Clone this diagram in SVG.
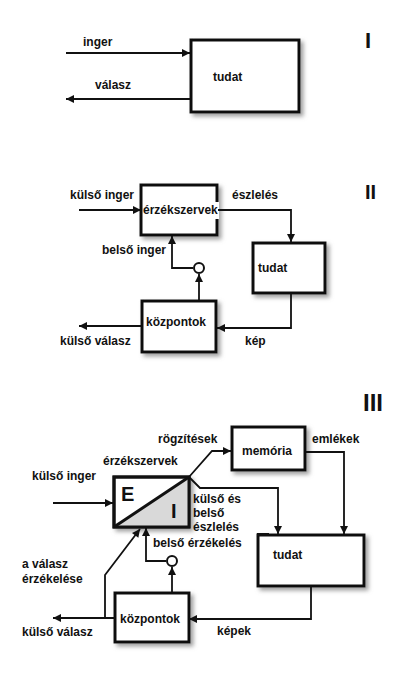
<svg xmlns="http://www.w3.org/2000/svg" width="401" height="676" viewBox="0 0 401 676">
<style>
text{font-family:"Liberation Sans",Arial,sans-serif;font-weight:bold;font-size:12px;fill:#111}
.roman{font-size:22px}
.box{fill:#fff;stroke:#111;stroke-width:3;filter:url(#sh)}
.ln{fill:none;stroke:#111;stroke-width:1.8}
.arr{marker-end:url(#ah)}
.circ{fill:#fff;stroke:#111;stroke-width:2}
</style>
<defs>
<marker id="ah" viewBox="0 0 10 10" refX="10" refY="5" markerWidth="10" markerHeight="8" orient="auto" markerUnits="userSpaceOnUse"><path d="M0,0 L10,5 L0,10 z" fill="#111"/></marker>
<filter id="sh" x="-20%" y="-20%" width="150%" height="150%"><feDropShadow dx="3" dy="3" stdDeviation="2" flood-color="#777" flood-opacity="0.7"/></filter>
</defs>
<rect width="401" height="676" fill="#fff"/>

<!-- Section I -->
<text class="roman" x="365" y="48">I</text>
<g id="tudat1"><rect class="box" x="191" y="40" width="108" height="72"/><text x="213" y="81">tudat</text></g>

<!-- Section II -->
<text class="roman" x="365" y="199" style="font-size:20px">II</text>
<g id="erzek2"><rect class="box" x="141" y="185" width="76" height="50"/><rect x="143" y="202" width="76" height="17" fill="#fff"/><text x="143" y="214">érzékszervek</text></g>
<g id="tudat2"><rect class="box" x="253" y="243" width="72" height="50"/><text x="258" y="272">tudat</text></g>
<g id="kozp2"><rect class="box" x="142" y="301" width="74" height="51"/><text x="146" y="326">központok</text></g>

<!-- Section III -->
<text class="roman" x="363" y="411" style="font-size:24px">III</text>
<g id="memoria3"><rect class="box" x="232" y="427" width="73" height="43"/><text x="242" y="455">memória</text></g>
<g id="erzek3"><rect class="box" x="114" y="477" width="75" height="50"/><path d="M114,527 L189,477 L189,527 z" fill="#d9d9d9"/><rect x="114" y="477" width="75" height="50" fill="none" stroke="#111" stroke-width="3"/><line x1="114" y1="527" x2="189" y2="477" stroke="#111" stroke-width="3"/><text x="121" y="501" style="font-size:20px">E</text><text x="171" y="518" style="font-size:20px">I</text></g>
<g id="tudat3"><rect class="box" x="258" y="535" width="106" height="51"/><rect x="257" y="533" width="12" height="3" fill="#111"/><text x="273" y="559">tudat</text></g>
<g id="kozp3"><rect class="box" x="115" y="593" width="74" height="49"/><text x="120" y="623">központok</text></g>

<g id="connectors">
<!-- I -->
<path class="ln arr" d="M66,53 H190"/>
<path class="ln arr" d="M190,99 H66"/>
<!-- II -->
<path class="ln arr" d="M79,210 H141"/>
<path class="ln arr" d="M218,210 H291 V242"/>
<path class="ln arr" d="M291,294 V328 H217"/>
<path class="ln arr" d="M141,326 H79"/>
<path class="ln arr" d="M199,300 V274"/>
<path class="ln arr" d="M193,268 H172 V236"/>
<circle class="circ" cx="199" cy="268" r="5"/>
<!-- III -->
<path class="ln arr" d="M53,503 H113"/>
<path class="ln arr" d="M189,477 L212,451 H231"/>
<path class="ln arr" d="M306,452 H344 V534"/>
<path class="ln arr" d="M189,477 L200,488 H278 V534"/>
<path class="ln arr" d="M311,587 V619 H189"/>
<path class="ln arr" d="M115,618 H53"/>
<path class="ln arr" d="M105,618 V575 L140,529"/>
<path class="ln arr" d="M172,592 V567"/>
<path class="ln arr" d="M166,561 H146 V528"/>
<circle class="circ" cx="172" cy="561" r="5"/>
</g>

<!-- labels -->
<text x="83" y="46">inger</text>
<text x="95" y="89">válasz</text>
<text x="70" y="199">külső inger</text>
<text x="232" y="199">észlelés</text>
<text x="102" y="254">belső inger</text>
<text x="245" y="345">kép</text>
<text x="60" y="345">külső válasz</text>
<text x="158" y="443">rögzítések</text>
<text x="312" y="443">emlékek</text>
<text x="103" y="465">érzékszervek</text>
<text x="32" y="480">külső inger</text>
<text x="193" y="503">külső és</text>
<text x="193" y="517">belső</text>
<text x="193" y="531">észlelés</text>
<text x="153" y="547">belső érzékelés</text>
<text x="22" y="568">a válasz</text>
<text x="22" y="583">érzékelése</text>
<text x="217" y="635">képek</text>
<text x="22" y="636">külső válasz</text>
</svg>
